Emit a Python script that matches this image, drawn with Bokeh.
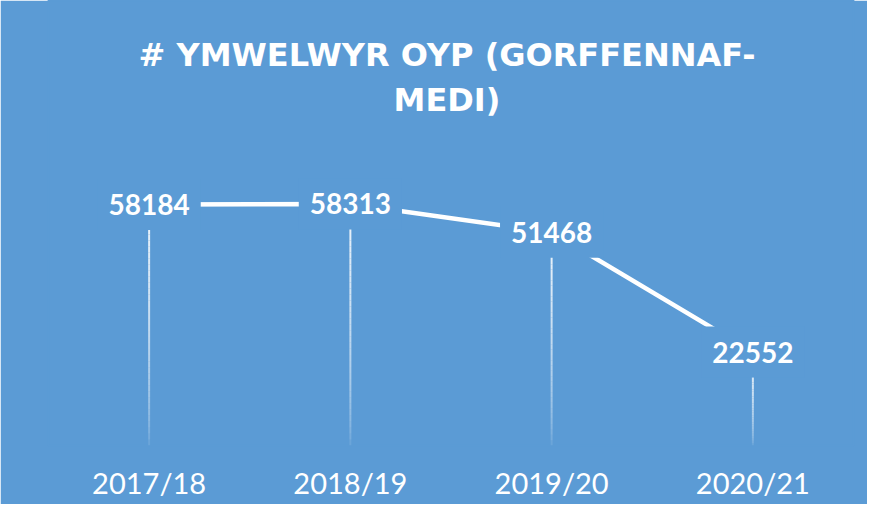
from bokeh.plotting import figure
from bokeh.models import Range1d, FactorRange, Label, ColumnDataSource
from bokeh.embed import file_html
from bokeh.resources import INLINE
from bokeh.core.properties import value

years = ["2017/18", "2018/19", "2019/20", "2020/21"]
visitors = [58184, 58313, 51468, 22552]
title_line1 = "# YMWELWYR OYP (GORFFENNAF-"
title_line2 = "MEDI)"

BG = "#5B9BD5"
UNITS_PER_PX = 70000 / 290      # value scale: 70000 spans 290 px
FRAME_H = 445                   # frame also holds the title area
Y_MAX = FRAME_H * UNITS_PER_PX

p = figure(x_range=FactorRange(*years, range_padding=0), y_range=Range1d(0, Y_MAX),
           width=867, height=504, output_backend="svg", toolbar_location=None,
           min_border_left=48, min_border_right=14, min_border_top=0, min_border_bottom=59,
           background_fill_color=BG, border_fill_color=BG,
           outline_line_color=BG, outline_line_width=2)

p.xgrid.visible = False
p.ygrid.visible = False
p.yaxis.visible = False
ax = p.xaxis[0]
ax.axis_line_color = None
ax.major_tick_line_color = None
ax.minor_tick_line_color = None
ax.major_label_text_color = "white"
ax.major_label_text_font = "Lato"
ax.major_label_text_font_size = "29px"
ax.major_label_standoff = 13

# drop lines fading towards the baseline
N = 40
sx, sy0, sy1, sa = [], [], [], []
for yr, v in zip(years, visitors):
    for i in range(N):
        sx.append(yr)
        sy0.append(v * i / N)
        sy1.append(v * (i + 1) / N)
        sa.append(0.9 * ((i + 0.5) / N) ** 0.5)
drop = ColumnDataSource(dict(x=sx, y0=sy0, y1=sy1, a=sa))
p.segment(x0="x", y0="y0", x1="x", y1="y1", line_alpha="a", line_color="white",
          line_width=2, source=drop)

src = ColumnDataSource(dict(x=years, y=visitors, t=[str(v) for v in visitors]))
p.line(x="x", y="y", line_color="white", line_width=4.5, source=src)
p.text(x="x", y="y", text="t", source=src, text_color="white",
       text_font=value("Lato"), text_font_style="bold", text_font_size="28px",
       text_align="center", text_baseline="middle",
       background_fill_color=BG, padding=(11, 15))

# title: two centred lines placed above the data area (offsets in pixels)
for txt, px_above in ((title_line1, 391), (title_line2, 346)):
    p.add_layout(Label(x=1.98, y=px_above * UNITS_PER_PX, text=txt, text_color="white",
                       text_font="DejaVu Sans", text_font_style="bold",
                       text_font_size="32px", text_align="center", text_baseline="middle"))

open("out.html", "w").write(file_html(p, INLINE))
